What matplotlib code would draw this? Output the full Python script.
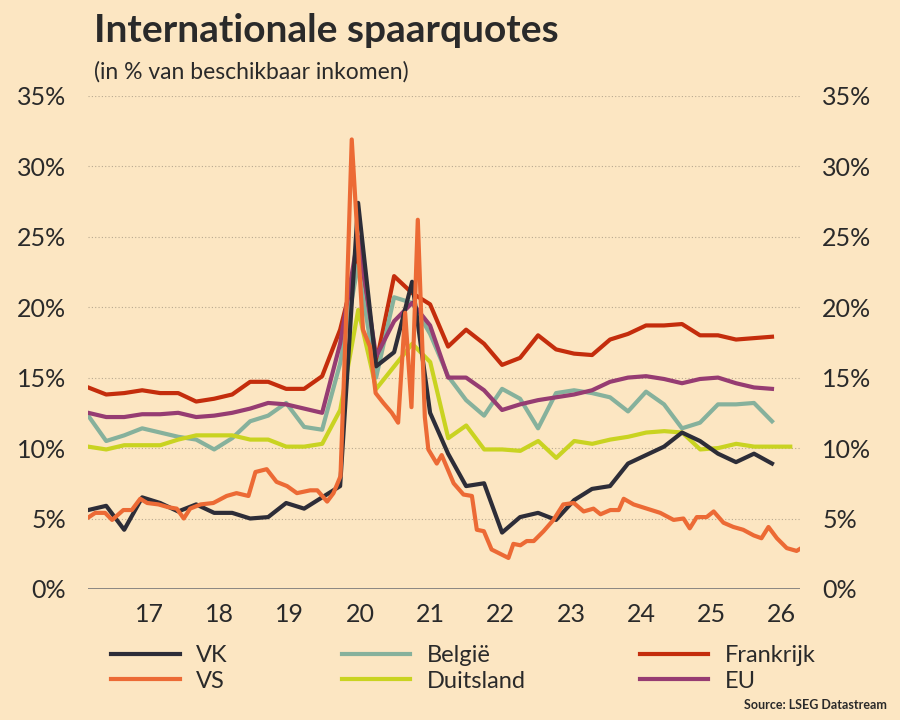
import numpy as np
import matplotlib
matplotlib.use("Agg")
import matplotlib.pyplot as plt

plt.rcParams["font.family"] = ["Lato", "DejaVu Sans"]

BG = "#FCE6C2"

# quarterly series, evenly spaced between first and last quarter
vk = [5.6, 5.9, 4.2, 6.5, 6.1, 5.5, 6.0, 5.4, 5.4, 5.0, 5.1, 6.1, 5.7, 6.5, 7.3,
      27.4, 15.8, 16.8, 21.8, 12.5, 9.6, 7.3, 7.5, 4.0, 5.1, 5.4, 4.9, 6.3, 7.1,
      7.3, 8.9, 9.5, 10.1, 11.1, 10.5, 9.6, 9.0, 9.6, 8.9]
frankrijk = [14.3, 13.8, 13.9, 14.1, 13.9, 13.9, 13.3, 13.5, 13.8, 14.7, 14.7, 14.2,
             14.2, 15.1, 18.4, 23.5, 16.0, 22.2, 21.0, 20.2, 17.2, 18.4, 17.4, 15.9,
             16.4, 18.0, 17.0, 16.7, 16.6, 17.7, 18.1, 18.7, 18.7, 18.8, 18.0, 18.0,
             17.7, 17.8, 17.9]
belgie = [12.3, 10.5, 10.9, 11.4, 11.1, 10.8, 10.6, 9.9, 10.7, 11.9, 12.3, 13.2,
          11.5, 11.3, 16.0, 23.0, 15.0, 20.7, 20.3, 18.1, 15.1, 13.4, 12.3, 14.2,
          13.5, 11.4, 13.9, 14.1, 13.9, 13.6, 12.6, 14.0, 13.1, 11.4, 11.8, 13.1,
          13.1, 13.2, 11.9]
eu = [12.5, 12.2, 12.2, 12.4, 12.4, 12.5, 12.2, 12.3, 12.5, 12.8, 13.2, 13.1, 12.8,
      12.5, 17.4, 25.0, 16.5, 19.0, 20.3, 18.7, 15.0, 15.0, 14.1, 12.7, 13.1, 13.4,
      13.6, 13.8, 14.1, 14.7, 15.0, 15.1, 14.9, 14.6, 14.9, 15.0, 14.6, 14.3, 14.2]
duitsland = [10.1, 9.9, 10.2, 10.2, 10.2, 10.6, 10.9, 10.9, 10.9, 10.6, 10.6, 10.1,
             10.1, 10.3, 12.7, 19.8, 14.2, 15.8, 17.4, 16.1, 10.7, 11.6, 9.9, 9.9,
             9.8, 10.5, 9.3, 10.5, 10.3, 10.6, 10.8, 11.1, 11.2, 11.1, 9.9, 10.0,
             10.3, 10.1, 10.1, 10.1]

# monthly US series (year, value)
vs_x = [16.14, 16.23, 16.37, 16.47, 16.63, 16.75, 16.87, 16.97, 17.13, 17.27, 17.39,
        17.49, 17.58, 17.73, 17.91, 18.10, 18.24, 18.41, 18.51, 18.67, 18.81, 18.96,
        19.10, 19.29, 19.39, 19.53, 19.62, 19.72, 19.81, 19.88, 19.95, 20.04, 20.14,
        20.22, 20.33, 20.45, 20.54, 20.64, 20.73, 20.82, 20.92, 20.97, 21.09, 21.16,
        21.33, 21.47, 21.59, 21.66, 21.76, 21.87, 21.99, 22.11, 22.18, 22.28, 22.37,
        22.47, 22.61, 22.75, 22.89, 23.04, 23.18, 23.32, 23.42, 23.56, 23.68, 23.75,
        23.89, 24.08, 24.27, 24.46, 24.60, 24.69, 24.79, 24.93, 25.03, 25.17, 25.31,
        25.45, 25.60, 25.71, 25.81, 25.93, 26.07, 26.21, 26.31]
vs = [5.1, 5.4, 5.4, 4.9, 5.6, 5.6, 6.4, 6.1, 6.0, 5.8, 5.7, 5.0, 5.7, 6.0, 6.1,
      6.6, 6.8, 6.6, 8.3, 8.5, 7.6, 7.3, 6.8, 7.0, 7.0, 6.2, 6.8, 8.0, 20.7, 31.9,
      26.0, 18.4, 17.2, 13.9, 13.2, 12.5, 11.8, 19.6, 12.9, 26.2, 12.2, 9.9, 8.9,
      9.5, 7.5, 6.7, 6.6, 4.2, 4.1, 2.8, 2.5, 2.2, 3.2, 3.1, 3.4, 3.4, 4.1, 4.9,
      6.0, 6.1, 5.5, 5.7, 5.3, 5.6, 5.6, 6.4, 6.0, 5.7, 5.4, 4.9, 5.0, 4.3, 5.1,
      5.1, 5.5, 4.7, 4.4, 4.2, 3.8, 3.6, 4.4, 3.6, 2.9, 2.7, 3.0]

years = [17, 18, 19, 20, 21, 22, 23, 24, 25, 26]
yticks = [0, 5, 10, 15, 20, 25, 30, 35]

fig = plt.figure(figsize=(9, 7.2), dpi=100, facecolor=BG)
ax = fig.add_axes([0.098, 0.182, 0.791, 0.685], facecolor=BG)


def qx(values, start, end):
    return np.linspace(start, end, len(values))


lw = 3
ax.plot(qx(frankrijk, 16.13, 25.86), frankrijk, color="#C42D0C", lw=lw)
ax.plot(qx(belgie, 16.13, 25.86), belgie, color="#86B19C", lw=lw)
ax.plot(qx(eu, 16.13, 25.86), eu, color="#963C72", lw=lw)
ax.plot(qx(duitsland, 16.13, 26.12), duitsland, color="#C9D321", lw=lw)
ax.plot(qx(vk, 16.13, 25.86), vk, color="#2D2D38", lw=lw)
ax.plot(vs_x, vs, color="#EC6A35", lw=lw)

ax.set_xlim(16.13, 26.26)
ax.set_ylim(0, 35)
ax.set_xticks(years)
ax.set_xticklabels([str(y) for y in years])
ax.set_yticks(yticks)
ax.set_yticklabels([f"{t}%" for t in yticks])
ax.tick_params(axis="x", labelsize=18, length=0, pad=10, labelcolor="#2a2a2a")
ax.tick_params(axis="y", labelsize=18, length=0, labelright=True, labelcolor="#2a2a2a")
for t in yticks[1:]:
    ax.axhline(t, color="#b8a990", lw=0.8, ls=(0, (1, 2)), zorder=0)
ax.axhline(0, color="#777777", lw=1.2, zorder=0)
for s in ax.spines.values():
    s.set_visible(False)
for tick in ax.yaxis.get_major_ticks():
    tick.set_pad(16)
    tick.label2.set_horizontalalignment("left")

fig.text(0.105, 0.958, "Internationale spaarquotes", fontsize=28, fontweight="bold",
         color="#2a2a2a", va="center")
fig.text(0.105, 0.9, "(in % van beschikbaar inkomen)", fontsize=16.5,
         color="#2a2a2a", va="center")

names = ["VK", "VS", "België", "Duitsland", "Frankrijk", "EU"]
cols = ["#2D2D38", "#EC6A35", "#86B19C", "#C9D321", "#C42D0C", "#963C72"]
handles = [plt.Line2D([], [], color=c, lw=lw) for c in cols]
fig.legend(handles, names, ncol=3, loc="lower left", bbox_to_anchor=(0.1, 0.01, 0.83, 0.1),
           mode="expand", frameon=False, fontsize=17, handlelength=2.9,
           handletextpad=0.7, labelspacing=0.2, labelcolor="#2a2a2a")
fig.text(0.985, 0.012, "Source: LSEG Datastream", fontsize=9, fontweight="bold",
         color="#2a2a2a", ha="right", va="bottom")

fig.savefig("out.png", dpi=100, facecolor=BG)
